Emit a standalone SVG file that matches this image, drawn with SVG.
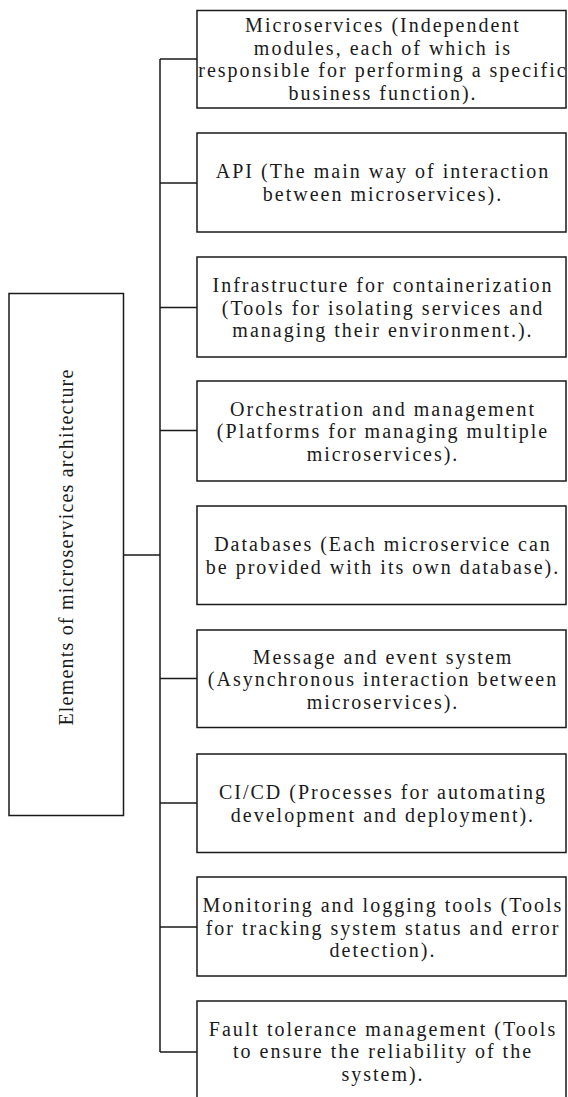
<svg xmlns="http://www.w3.org/2000/svg" width="568" height="1097" viewBox="0 0 568 1097">
<style>
.box{fill:#fff;stroke:#1a1a1a;stroke-width:1.5}
.ln{fill:none;stroke:#1a1a1a;stroke-width:1.5}
text{font-family:"Liberation Serif","Times New Roman",serif;font-size:20px;letter-spacing:2px;fill:#1a1a1a;text-anchor:middle}
.vt{letter-spacing:1.2px}
</style>
<rect width="568" height="1097" fill="#fff"/>
<g id="connectors">
<path class="ln" d="M123.5 555H160M160 59V1052M160 59H197M160 183H197M160 307.5H197M160 430.5H197M160 678.5H197M160 803H197M160 927H197M160 1052H197"/>
</g>
<g id="root">
<rect class="box" x="9" y="293.5" width="114.5" height="522"/>
<text class="vt" transform="translate(66,547) rotate(-90)" y="7">Elements of microservices architecture</text>
</g>
<g id="n1">
<rect class="box" x="197" y="10.5" width="369" height="97.5"/>
<text x="383" y="32">Microservices (Independent</text>
<text x="383" y="54.5">modules, each of which is</text>
<text x="383" y="77">responsible for performing a specific</text>
<text x="383" y="99.5">business function).</text>
</g>
<g id="n2">
<rect class="box" x="197" y="133" width="369" height="99"/>
<text x="383" y="178">API (The main way of interaction</text>
<text x="383" y="200.5">between microservices).</text>
</g>
<g id="n3">
<rect class="box" x="197" y="257" width="369" height="100"/>
<text x="383" y="292">Infrastructure for containerization</text>
<text x="383" y="314.5">(Tools for isolating services and</text>
<text x="383" y="337">managing their environment.).</text>
</g>
<g id="n4">
<rect class="box" x="197" y="381" width="369" height="100"/>
<text x="383" y="415.5">Orchestration and management</text>
<text x="383" y="438">(Platforms for managing multiple</text>
<text x="383" y="460.5">microservices).</text>
</g>
<g id="n5">
<rect class="box" x="197" y="506" width="369" height="98.5"/>
<text x="383" y="551">Databases (Each microservice can</text>
<text x="383" y="573.5">be provided with its own database).</text>
</g>
<g id="n6">
<rect class="box" x="197" y="630" width="369" height="97.5"/>
<text x="383" y="663.5">Message and event system</text>
<text x="383" y="686">(Asynchronous interaction between</text>
<text x="383" y="708.5">microservices).</text>
</g>
<g id="n7">
<rect class="box" x="197" y="754" width="369" height="98.5"/>
<text x="383" y="799">CI/CD (Processes for automating</text>
<text x="383" y="821.5">development and deployment).</text>
</g>
<g id="n8">
<rect class="box" x="197" y="877" width="369" height="99"/>
<text x="383" y="912">Monitoring and logging tools (Tools</text>
<text x="383" y="934.5">for tracking system status and error</text>
<text x="383" y="957">detection).</text>
</g>
<g id="n9">
<rect class="box" x="197" y="1001" width="369" height="100"/>
<text x="383" y="1035.5">Fault tolerance management (Tools</text>
<text x="383" y="1058">to ensure the reliability of the</text>
<text x="383" y="1080.5">system).</text>
</g>
</svg>
